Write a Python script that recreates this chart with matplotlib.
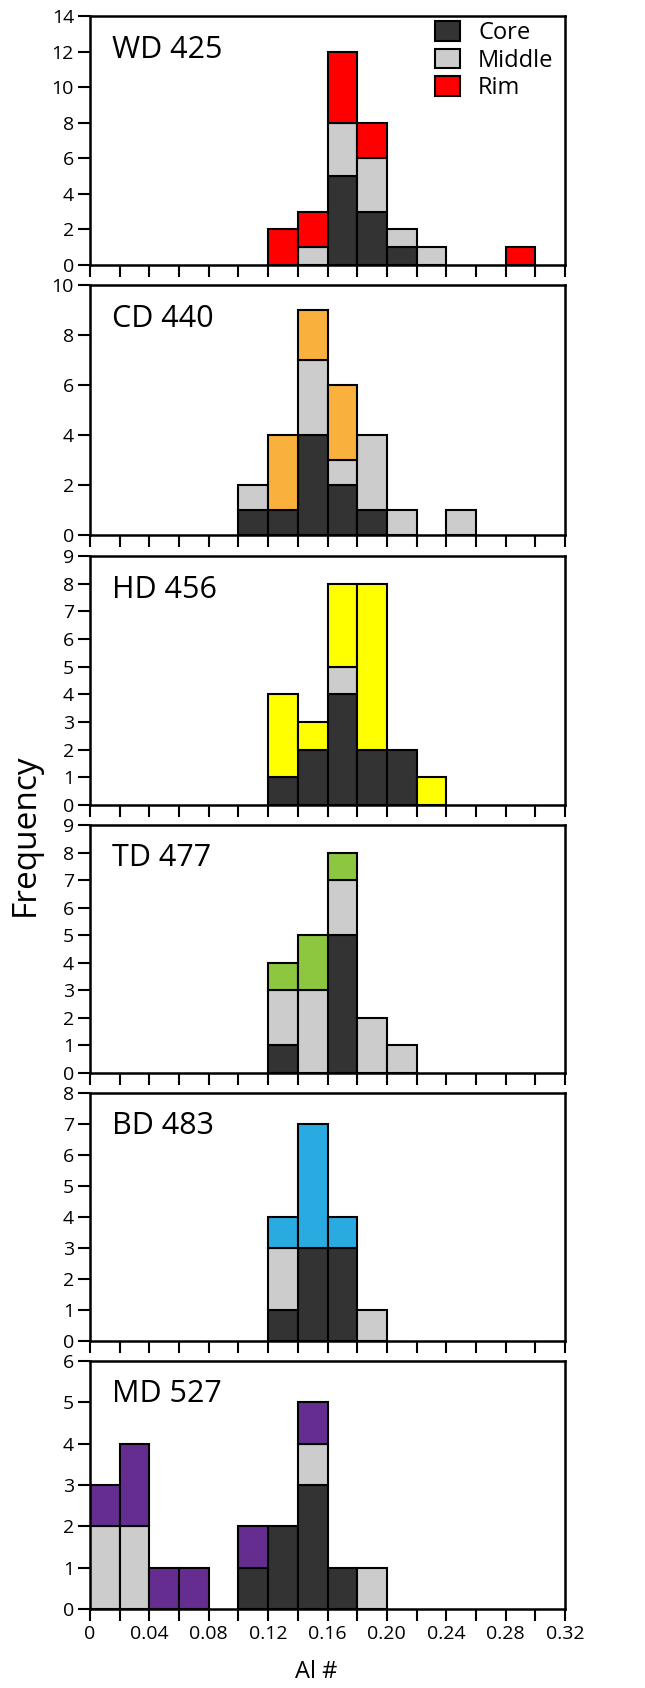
import matplotlib
matplotlib.use("Agg")
import matplotlib.pyplot as plt
from matplotlib.patches import Patch
import numpy as np

plt.rcParams["font.family"] = ["Open Sans", "DejaVu Sans"]

# bin left edges (Al #), width 0.02
bin_edges = [0.00, 0.02, 0.04, 0.06, 0.08, 0.10, 0.12, 0.14,
             0.16, 0.18, 0.20, 0.22, 0.24, 0.26, 0.28, 0.30]
bin_width = 0.02

samples = ["WD 425", "CD 440", "HD 456", "TD 477", "BD 483", "MD 527"]

#            0  1  2  3  4  5  6  7  8  9 10 11 12 13 14 15
wd_core   = [0, 0, 0, 0, 0, 0, 0, 0, 5, 3, 1, 0, 0, 0, 0, 0]
wd_middle = [0, 0, 0, 0, 0, 0, 0, 1, 3, 3, 1, 1, 0, 0, 0, 0]
wd_rim    = [0, 0, 0, 0, 0, 0, 2, 2, 4, 2, 0, 0, 0, 0, 1, 0]

cd_core   = [0, 0, 0, 0, 0, 1, 1, 4, 2, 1, 0, 0, 0, 0, 0, 0]
cd_middle = [0, 0, 0, 0, 0, 1, 0, 3, 1, 3, 1, 0, 1, 0, 0, 0]
cd_rim    = [0, 0, 0, 0, 0, 0, 3, 2, 3, 0, 0, 0, 0, 0, 0, 0]

hd_core   = [0, 0, 0, 0, 0, 0, 1, 2, 4, 2, 2, 0, 0, 0, 0, 0]
hd_middle = [0, 0, 0, 0, 0, 0, 0, 0, 1, 0, 0, 0, 0, 0, 0, 0]
hd_rim    = [0, 0, 0, 0, 0, 0, 3, 1, 3, 6, 0, 1, 0, 0, 0, 0]

td_core   = [0, 0, 0, 0, 0, 0, 1, 0, 5, 0, 0, 0, 0, 0, 0, 0]
td_middle = [0, 0, 0, 0, 0, 0, 2, 3, 2, 2, 1, 0, 0, 0, 0, 0]
td_rim    = [0, 0, 0, 0, 0, 0, 1, 2, 1, 0, 0, 0, 0, 0, 0, 0]

bd_core   = [0, 0, 0, 0, 0, 0, 1, 3, 3, 0, 0, 0, 0, 0, 0, 0]
bd_middle = [0, 0, 0, 0, 0, 0, 2, 0, 0, 1, 0, 0, 0, 0, 0, 0]
bd_rim    = [0, 0, 0, 0, 0, 0, 1, 4, 1, 0, 0, 0, 0, 0, 0, 0]

md_core   = [0, 0, 0, 0, 0, 1, 2, 3, 1, 0, 0, 0, 0, 0, 0, 0]
md_middle = [2, 2, 0, 0, 0, 0, 0, 1, 0, 1, 0, 0, 0, 0, 0, 0]
md_rim    = [1, 2, 1, 1, 0, 1, 0, 1, 0, 0, 0, 0, 0, 0, 0, 0]

cores = [wd_core, cd_core, hd_core, td_core, bd_core, md_core]
middles = [wd_middle, cd_middle, hd_middle, td_middle, bd_middle, md_middle]
rims = [wd_rim, cd_rim, hd_rim, td_rim, bd_rim, md_rim]

y_max = [14, 10, 9, 9, 8, 6]
y_step = [2, 2, 1, 1, 1, 1]

core_color = "#333333"
middle_color = "#cccccc"
rim_colors = ["#ff0000", "#f9b03d", "#ffff00", "#8dc63f", "#29abe2", "#662d91"]

# panel top/bottom in pixels
W, H = 645, 1688
panels_px = [(16, 265), (285, 535), (556, 805), (825, 1073), (1093, 1341), (1361, 1609)]
left_px, right_px = 90, 565

fig = plt.figure(figsize=(W / 100, H / 100), dpi=100)
edge_kw = dict(edgecolor="black", linewidth=1.5, align="edge", width=bin_width)

for i, name in enumerate(samples):
    top, bot = panels_px[i]
    ax = fig.add_axes([left_px / W, 1 - bot / H, (right_px - left_px) / W, (bot - top) / H])
    core = np.array(cores[i])
    mid = np.array(middles[i])
    rim = np.array(rims[i])
    m = core > 0
    ax.bar(np.array(bin_edges)[m], core[m], color=core_color, **edge_kw)
    m = mid > 0
    ax.bar(np.array(bin_edges)[m], mid[m], bottom=core[m], color=middle_color, **edge_kw)
    m = rim > 0
    ax.bar(np.array(bin_edges)[m], rim[m], bottom=(core + mid)[m], color=rim_colors[i], **edge_kw)

    ax.set_xlim(0, 0.32)
    ax.set_ylim(0, y_max[i])
    ax.set_yticks(np.arange(0, y_max[i] + 1, y_step[i]))
    ax.set_xticks(np.arange(0, 0.3201, 0.02))
    for s in ax.spines.values():
        s.set_linewidth(1.8)
    ax.tick_params(axis="both", direction="out", length=8.5, width=1.5, labelsize=14, pad=3)
    ax.text(0.046, 0.865, name, transform=ax.transAxes, fontsize=22, va="center", ha="left")

    if i == len(samples) - 1:
        labels = []
        for v in np.arange(0, 0.3201, 0.02):
            k = int(round(v / 0.02))
            if k % 2:
                labels.append("")
            elif k == 0:
                labels.append("0")
            else:
                labels.append(f"{v:.2f}")
        ax.set_xticklabels(labels)
        ax.set_xlabel("Al #", fontsize=17)
        ax.xaxis.set_label_coords((316 - left_px) / (right_px - left_px), -(1672 - bot) / (bot - top),
                                  transform=ax.transAxes)
        ax.xaxis.label.set_va("center")
    else:
        ax.set_xticklabels([])

    if i == 0:
        handles = [Patch(facecolor=core_color, edgecolor="black", linewidth=1.5, label="Core"),
                   Patch(facecolor=middle_color, edgecolor="black", linewidth=1.5, label="Middle"),
                   Patch(facecolor=rim_colors[0], edgecolor="black", linewidth=1.5, label="Rim")]
        ax.legend(handles=handles, loc="upper left", bbox_to_anchor=(0.727, 0.98),
                  frameon=False, fontsize=17, handlelength=1.06, handleheight=0.9,
                  labelspacing=0.15, handletextpad=0.75, borderpad=0, borderaxespad=0)

fig.text(25 / W, 1 - 835 / H, "Frequency", rotation=90, fontsize=24, ha="center", va="center")

fig.savefig("out.png", dpi=100)
